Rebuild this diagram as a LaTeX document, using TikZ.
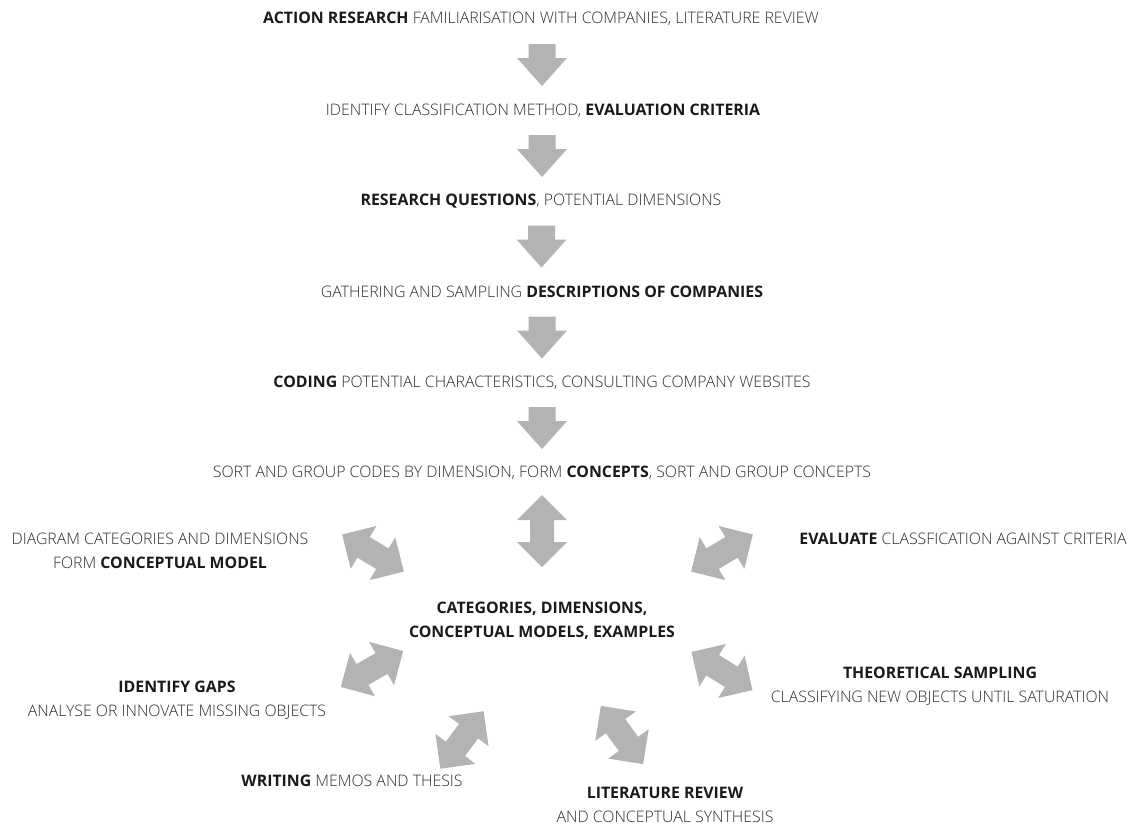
\documentclass[tikz,border=0pt]{standalone}
\usepackage{fontspec}
\IfFontExistsTF{Open Sans Light}
  {\setmainfont{Open Sans Light}[BoldFont={Open Sans Bold}]}
  {\setmainfont{Open Sans}}
\usetikzlibrary{calc}
\definecolor{arrowgray}{HTML}{B3B3B3}
\definecolor{plaintext}{HTML}{2E2E2E}
\definecolor{strongtext}{HTML}{1A1A1A}
\newcommand{\kw}[1]{\textbf{\color{strongtext}#1}}

\tikzset{
  lbl/.style={font=\fontsize{11.9}{18}\selectfont, text=plaintext, align=center, inner sep=0pt},
  downarrow/.pic={
    \fill[arrowgray] (-13.5,-21) -- (13.5,-21) -- (13.5,-7) -- (25,-7)
      -- (0,21) -- (-25,-7) -- (-13.5,-7) -- cycle;},
  dblarrow/.pic={
    \fill[arrowgray] (-36,0) -- (-11,25) -- (-11,12) -- (11,12) -- (11,25)
      -- (36,0) -- (11,-25) -- (11,-12) -- (-11,-12) -- (-11,-25) -- cycle;}
}

\begin{document}
\begin{tikzpicture}[x=0.75pt,y=-0.75pt]
\useasboundingbox (0,0) rectangle (1142,826);

% main sequence
\node[lbl] (s1) at (541,19)  {\kw{ACTION RESEARCH} FAMILIARISATION WITH COMPANIES, LITERATURE REVIEW};
\node[lbl] (s2) at (543,111) {IDENTIFY CLASSIFICATION METHOD, \kw{EVALUATION CRITERIA}};
\node[lbl] (s3) at (541,201) {\kw{RESEARCH QUESTIONS}, POTENTIAL DIMENSIONS};
\node[lbl] (s4) at (542,292) {GATHERING AND SAMPLING \kw{DESCRIPTIONS OF COMPANIES}};
\node[lbl] (s5) at (542,383) {\kw{CODING} POTENTIAL CHARACTERISTICS, CONSULTING COMPANY WEBSITES};
\node[lbl] (s6) at (542,473) {SORT AND GROUP CODES BY DIMENSION, FORM \kw{CONCEPTS}, SORT AND GROUP CONCEPTS};

% central hub and surrounding activities
\node[lbl] (hub) at (542,621) {\kw{CATEGORIES, DIMENSIONS,}\\\kw{CONCEPTUAL MODELS, EXAMPLES}};
\node[lbl] (diag) at (160,551) {DIAGRAM CATEGORIES AND DIMENSIONS\\FORM \kw{CONCEPTUAL MODEL}};
\node[lbl] (eval) at (963,539) {\kw{EVALUATE} CLASSFICATION AGAINST CRITERIA};
\node[lbl] (gaps) at (177,700) {\kw{IDENTIFY GAPS}\\ANALYSE OR INNOVATE MISSING OBJECTS};
\node[lbl] (theo) at (940,686) {\kw{THEORETICAL SAMPLING}\\CLASSIFYING NEW OBJECTS UNTIL SATURATION};
\node[lbl] (writ) at (352,781) {\kw{WRITING} MEMOS AND THESIS};
\node[lbl] (lit)  at (665,805) {\kw{LITERATURE REVIEW}\\AND CONCEPTUAL SYNTHESIS};

% downward steps
\pic at ($(s1)!0.5!(s2)$) {downarrow};
\pic at ($(s2)!0.5!(s3)$) {downarrow};
\pic at ($(s3)!0.5!(s4)$) {downarrow};
\pic at ($(s4)!0.5!(s5)$) {downarrow};
\pic at ($(s5)!0.5!(s6)$) {downarrow};

% two-way exchanges with the hub
\pic[rotate=90]  at (542,531) {dblarrow};
\pic[rotate=-31] at (373,553) {dblarrow};
\pic[rotate=31]  at (722,553) {dblarrow};
\pic[rotate=30]  at (372,669) {dblarrow};
\pic[rotate=-32] at (722,671) {dblarrow};
\pic[rotate=53]  at (462,740) {dblarrow};
\pic[rotate=-54] at (622,735) {dblarrow};
\end{tikzpicture}
\end{document}
